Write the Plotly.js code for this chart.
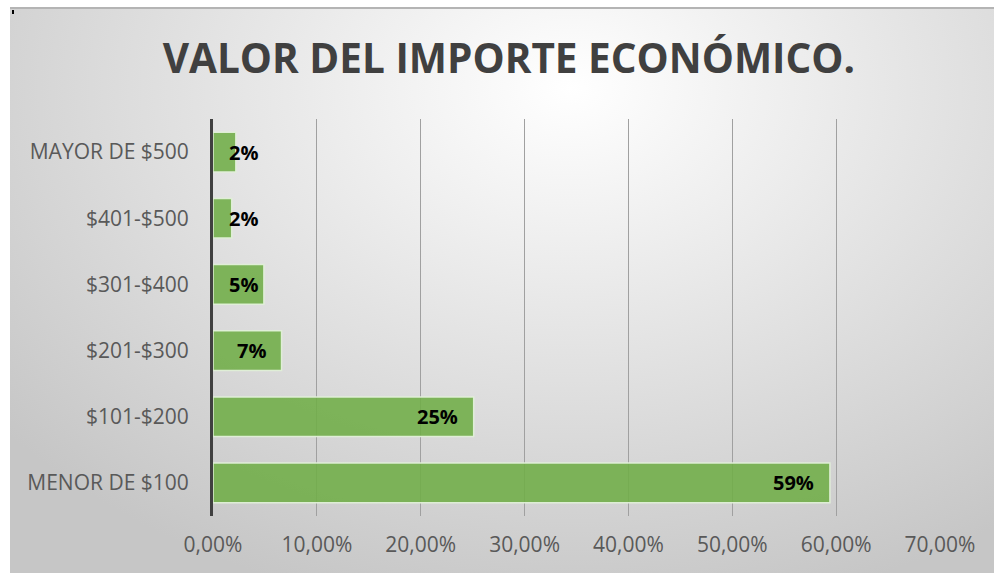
<!DOCTYPE html>
<html>
<head>
<meta charset="utf-8">
<script src="https://cdn.plot.ly/plotly-3.0.1.min.js"></script>
<style>
  html, body { margin: 0; padding: 0; background: #ffffff; width: 994px; height: 573px; overflow: hidden; }
  #bg { position: absolute; left: 10px; top: 7px; width: 984px; height: 566px;
        border-top: 2px solid #b4b4b4; box-sizing: border-box;
        background: radial-gradient(ellipse 75% 95% at 57% 14%, #ffffff 0%, #eeeeee 30%, #dadada 65%, #c6c6c6 100%); }
  #dot { position: absolute; left: 12px; top: 10px; width: 2px; height: 4px; background: #000; }
  #chart { position: absolute; left: 0; top: 0; width: 994px; height: 573px; }
</style>
</head>
<body>
<div id="bg"></div>
<div id="dot"></div>
<div id="chart"></div>
<script>
const categories = ['MENOR DE $100', '$101-$200', '$201-$300', '$301-$400', '$401-$500', 'MAYOR DE $500'];
const values = [0.594, 0.251, 0.066, 0.049, 0.018, 0.022];
const tickValues = [0, 0.1, 0.2, 0.3, 0.4, 0.5, 0.6, 0.7];
const titleText = 'VALOR DEL IMPORTE ECONÓMICO.';

const labelFont = {family: 'Open Sans, sans-serif', size: 20, color: '#000000'};
const annotations = values.map((v, i) => {
  const fits = v > 0.06;
  return {
    x: fits ? v : 0, y: categories[i], xref: 'x', yref: 'y',
    text: '<b>' + Math.round(v * 100) + '%</b>',
    showarrow: false,
    xanchor: fits ? 'right' : 'left',
    xshift: fits ? -14 : 14,
    font: labelFont
  };
});

const trace = {
  type: 'bar', orientation: 'h',
  x: values, y: categories,
  marker: {color: 'rgba(112,173,71,0.88)', line: {color: 'rgba(226,240,217,0.95)', width: 1.5}},
  hoverinfo: 'skip'
};

const layout = {
  width: 994, height: 573,
  paper_bgcolor: 'rgba(0,0,0,0)', plot_bgcolor: 'rgba(0,0,0,0)',
  margin: {l: 212.5, r: 53.5, t: 119, b: 57},
  separators: ',.',
  bargap: 0.4,
  showlegend: false,
  title: {
    text: '<b>' + titleText + '</b>',
    x: 0.512, xref: 'container', xanchor: 'center',
    y: 0.897, yref: 'container', yanchor: 'middle',
    font: {family: 'Open Sans, sans-serif', size: 40.5, color: '#404040'}
  },
  xaxis: {
    range: [0, 0.7], tickvals: tickValues, tickformat: '.2%',
    showgrid: true, gridcolor: '#a0a0a0', gridwidth: 1,
    zeroline: false, showline: false, ticks: '',
    tickfont: {family: 'Open Sans, sans-serif', size: 21, color: '#595959'},
    ticklabelstandoff: 14, fixedrange: true
  },
  yaxis: {
    type: 'category', categoryorder: 'array', categoryarray: categories,
    showline: true, linecolor: '#404040', linewidth: 3,
    showgrid: false, zeroline: false, ticks: '',
    tickfont: {family: 'Open Sans, sans-serif', size: 21, color: '#595959'},
    ticklabelstandoff: 17, fixedrange: true
  },
  annotations: annotations
};

Plotly.newPlot('chart', [trace], layout, {displayModeBar: false, staticPlot: true});
</script>
</body>
</html>
